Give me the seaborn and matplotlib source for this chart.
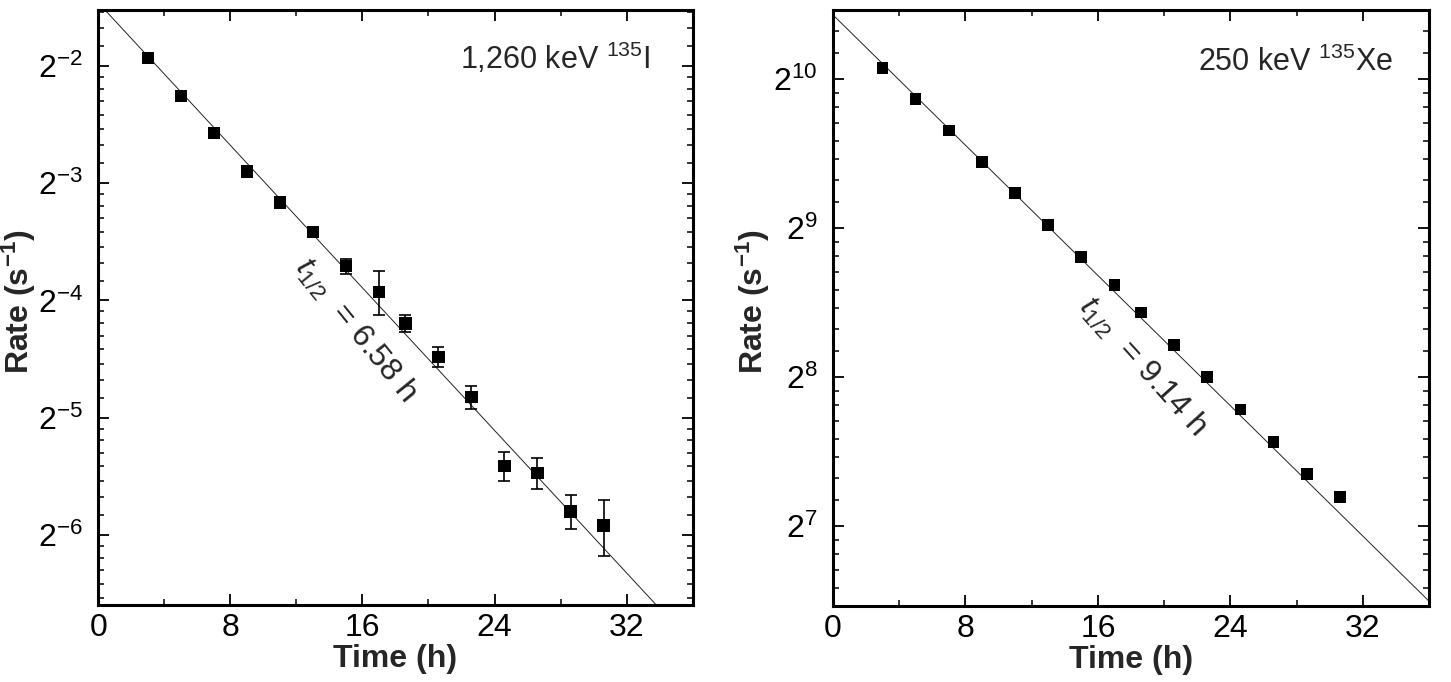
import numpy as np
import pandas as pd
import seaborn as sns
import matplotlib
matplotlib.use('Agg')
import matplotlib.pyplot as plt
from matplotlib.ticker import FixedLocator, FuncFormatter, MultipleLocator

# measurement times (h)
hours = [3, 5, 7, 9, 11, 13, 15, 17, 18.6, 20.6, 22.6, 24.6, 26.6, 28.6, 30.6]

# 1,260 keV line of I-135 (rate, s^-1)
iodine_rate = [0.2624, 0.2095, 0.1684, 0.1340, 0.1115, 0.0937, 0.0767, 0.0658,
               0.0546, 0.0448, 0.0353, 0.02352, 0.02256, 0.01795, 0.01652]
iodine_err = [0.0015, 0.0014, 0.0013, 0.0013, 0.0014, 0.0018, 0.0034, 0.0086,
              0.0028, 0.0027, 0.0024, 0.0020, 0.0020, 0.0018, 0.0027]
iodine_halflife = 6.58
iodine_r0 = 0.3633

# 250 keV line of Xe-135 (rate, s^-1)
xenon_rate = [1076.4, 931.9, 804.6, 694.1, 600.8, 517.7, 447.5, 391.8,
              345.1, 296.7, 255.5, 219.7, 188.8, 162.9, 146.1]
xenon_halflife = 9.14
xenon_r0 = 1379.5

sns.set_theme(style='ticks')
plt.rcParams['font.family'] = ['Liberation Sans', 'DejaVu Sans']
plt.rcParams['mathtext.fontset'] = 'custom'
plt.rcParams['mathtext.rm'] = 'Liberation Sans'
plt.rcParams['mathtext.it'] = 'Liberation Sans:italic'
plt.rcParams['mathtext.bf'] = 'Liberation Sans:bold'

fig = plt.figure(figsize=(14.51, 6.82), dpi=100)
ax1 = fig.add_axes([0.0677, 0.1129, 0.4097, 0.8724])
ax2 = fig.add_axes([0.5739, 0.1114, 0.4112, 0.8739])


def pow2_label(v, pos):
    e = int(round(np.log2(v)))
    return r'$\mathregular{2^{%d}}$' % e


def draw_panel(ax, rate, err, r0, halflife, ms, exps, ylim, label, note_xy, note_rot, note_text):
    df = pd.DataFrame({'Time (h)': hours, 'Rate': rate})
    t_fit = [0, 36]
    fit = pd.DataFrame({'t': t_fit, 'r': [r0 * 2 ** (-t / halflife) for t in t_fit]})
    sns.lineplot(data=fit, x='t', y='r', ax=ax, color='#222222', lw=0.7)
    if err is not None:
        ax.errorbar(hours, rate, yerr=err, fmt='none', ecolor='black',
                    elinewidth=1.2, capsize=4, capthick=1.2, zorder=3)
    sns.scatterplot(data=df, x='Time (h)', y='Rate', ax=ax, marker='s', s=ms,
                    color='black', edgecolor='none', linewidth=0, zorder=4)
    ax.set_yscale('log', base=2)
    ax.set_xlim(0, 36)
    ax.set_ylim(2 ** ylim[0], 2 ** ylim[1])

    majors = [2.0 ** e for e in exps]
    minors = []
    for e in range(int(np.floor(ylim[0])) - 1, int(np.ceil(ylim[1])) + 1):
        for k in range(1, 8):
            minors.append(2.0 ** e * (1 + k / 8))
    ax.yaxis.set_major_locator(FixedLocator(majors))
    ax.yaxis.set_minor_locator(FixedLocator(minors))
    ax.yaxis.set_major_formatter(FuncFormatter(pow2_label))
    ax.yaxis.set_minor_formatter(FuncFormatter(lambda v, p: ''))
    ax.xaxis.set_major_locator(MultipleLocator(8))
    ax.xaxis.set_minor_locator(MultipleLocator(4))

    ax.tick_params(which='both', direction='in', top=True, right=True, colors='black')
    ax.tick_params(which='major', length=8, width=1.3)
    ax.tick_params(which='minor', length=4, width=1.1)
    ax.tick_params(axis='y', which='major', pad=11, labelsize=23)
    ax.tick_params(axis='x', which='major', pad=6, labelsize=23)
    for sp in ax.spines.values():
        sp.set_linewidth(2.2)
        sp.set_color('black')

    ax.set_xlabel('Time (h)', fontsize=23, fontweight='bold', labelpad=0)
    ax.set_ylabel(r'Rate (s$^{\mathbf{-1}}$)', fontsize=23, fontweight='bold')
    ax.xaxis.set_label_coords(0.5, -0.065)
    ax.yaxis.set_label_coords(-0.101, 0.51)

    ax.text(label[0], label[1], label[2], transform=ax.transAxes, fontsize=22,
            ha='right', va='center')
    ax.text(note_xy[0], 2 ** note_xy[1], note_text, fontsize=23, rotation=note_rot,
            ha='center', va='center', rotation_mode='anchor')


draw_panel(ax1, iodine_rate, iodine_err, iodine_r0, iodine_halflife, 79,
           [-2, -3, -4, -5, -6], (-6.597, -1.523),
           (0.929, 0.919, r'1,260 keV $^{135}$I'),
           (15.6, -4.25), -51, r'$t_{1/2}$  = 6.58 h')
draw_panel(ax2, xenon_rate, None, xenon_r0, xenon_halflife, 71,
           [10, 9, 8, 7], (6.461, 10.461),
           (0.939, 0.913, r'250 keV $^{135}$Xe'),
           (18.7, 8.07), -48, r'$t_{1/2}$  = 9.14 h')

fig.savefig('out.png', dpi=100)
